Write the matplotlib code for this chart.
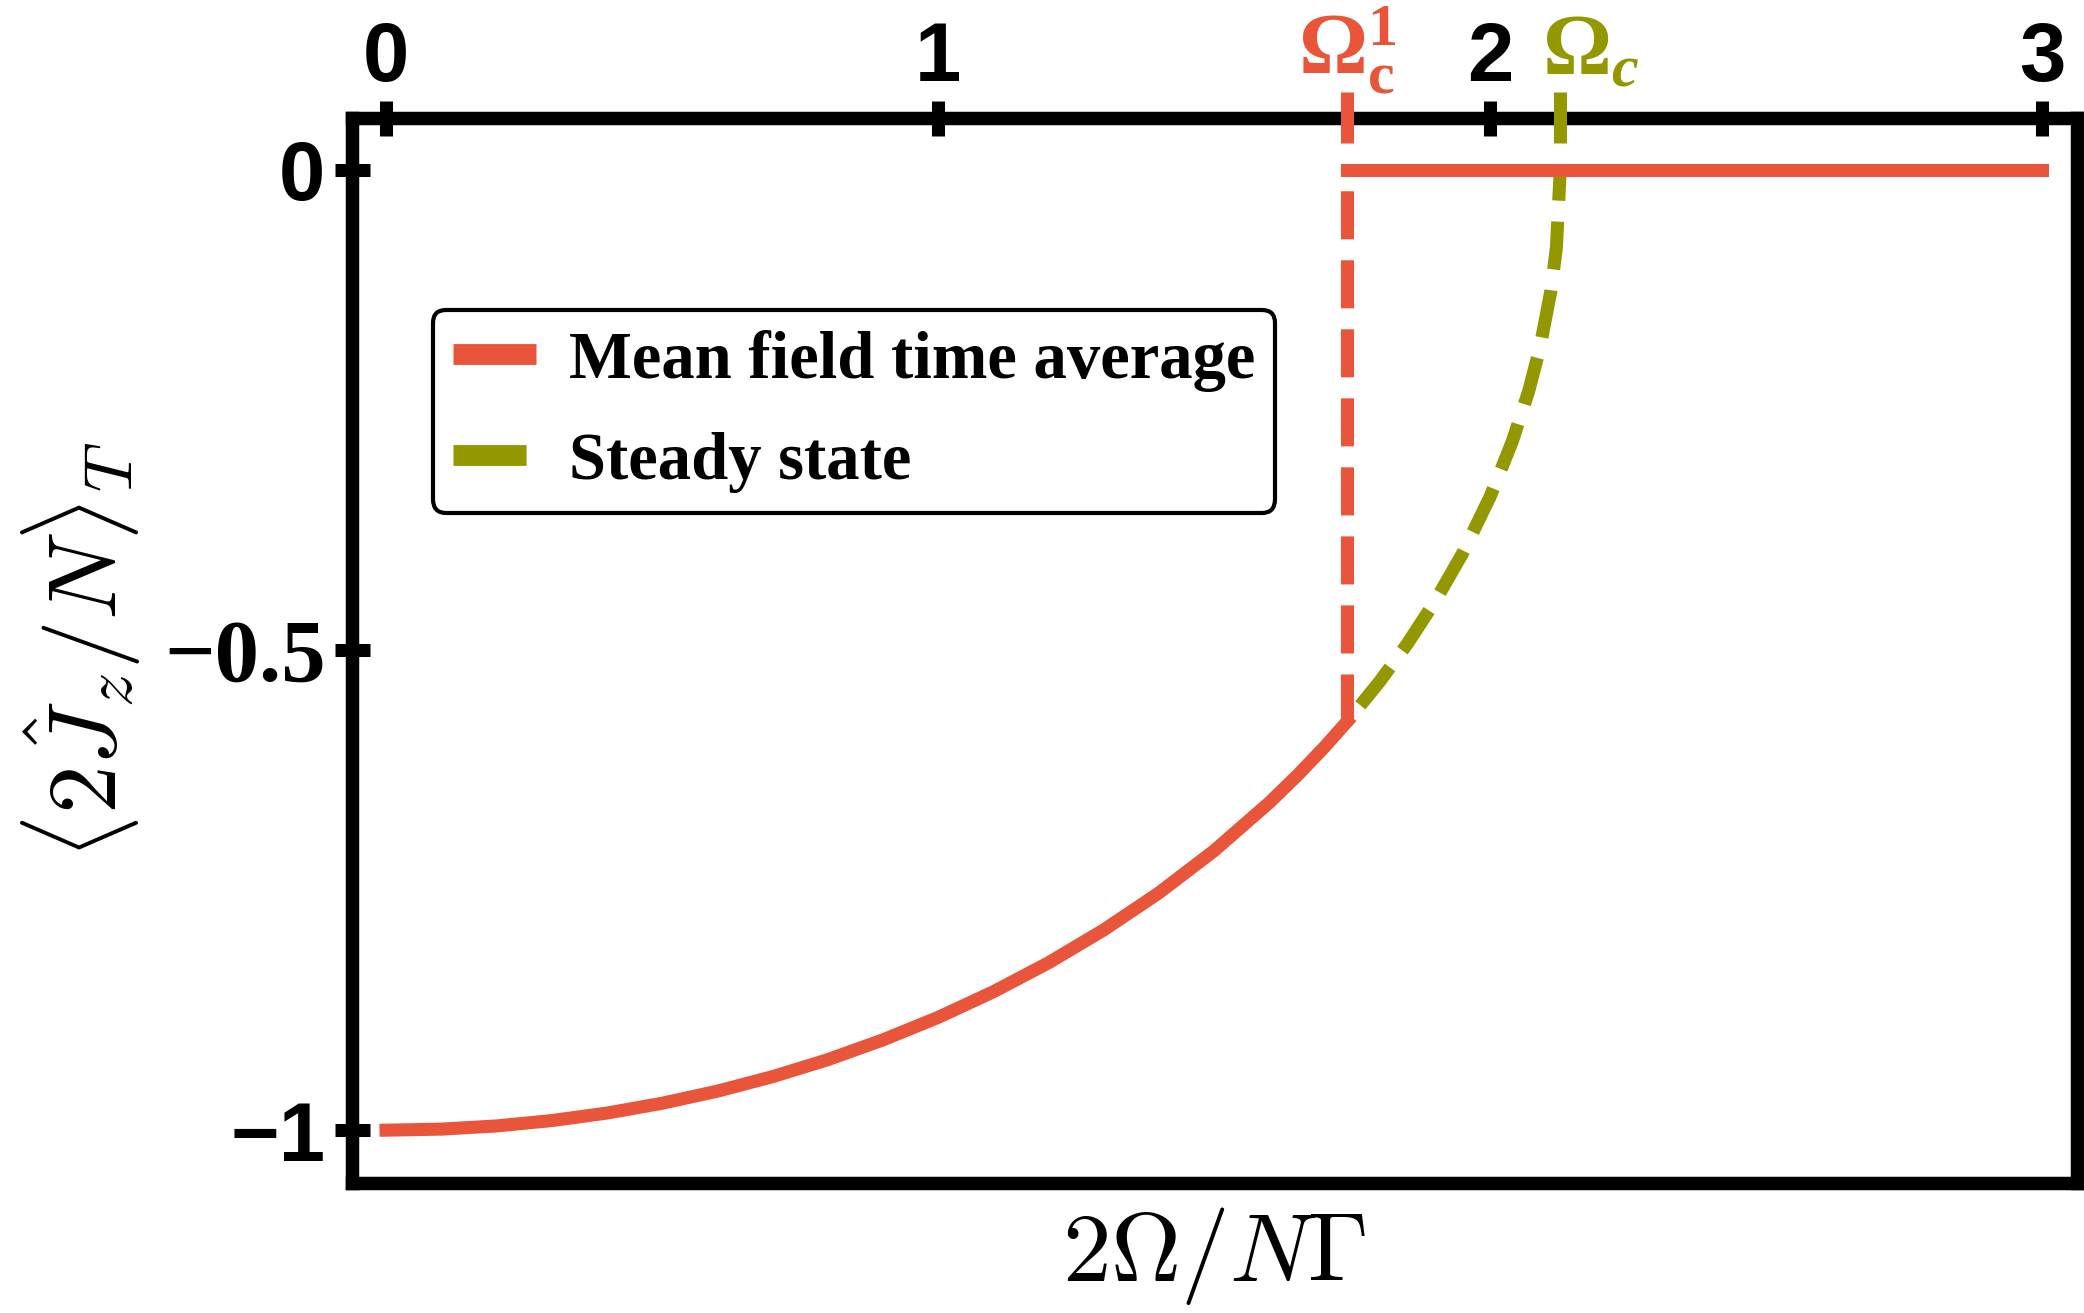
import matplotlib
matplotlib.use('Agg')
import matplotlib.pyplot as plt
from matplotlib.lines import Line2D
from matplotlib.font_manager import FontProperties
import matplotlib.transforms as mtransforms

plt.rcParams['mathtext.fontset'] = 'cm'
plt.rcParams['mathtext.rm'] = 'Liberation Serif:bold'
plt.rcParams['mathtext.bf'] = 'Liberation Serif:bold'
plt.rcParams['mathtext.it'] = 'Liberation Serif:italic:bold'
plt.rcParams['lines.scale_dashes'] = False

# ---------------- data ----------------
omega_c1 = 1.741
omega_c = 2.127

mf_x = [0.0, 0.1, 0.2, 0.3, 0.4, 0.5, 0.6, 0.7, 0.8, 0.9, 1.0, 1.1, 1.2, 1.3,
        1.4, 1.5, 1.6, 1.65, 1.7, 1.741]
mf_y = [-1.000, -0.9989, -0.9956, -0.9900, -0.9822, -0.9720, -0.9594, -0.9443,
        -0.9266, -0.9060, -0.8826, -0.8559, -0.8257, -0.7915, -0.7529, -0.7090,
        -0.6589, -0.6310, -0.6010, -0.5745]

mf_high_x = [1.741, 3.0]
mf_high_y = [0.0, 0.0]

jump_x = [1.741, 1.741]
jump_y = [-0.5745, 0.0]

ss_x = [1.741, 1.80, 1.85, 1.90, 1.95, 2.00, 2.04, 2.07, 2.09, 2.11, 2.12, 2.127]
ss_y = [-0.5745, -0.5327, -0.4935, -0.4495, -0.3994, -0.3403, -0.2830, -0.2300,
        -0.1857, -0.1261, -0.0810, 0.0]

xticks = [0, 1, 2, 3]
xtick_labels = ['0', '1', '2', '3']
yticks = [0, -0.5, -1]
ytick_labels = ['0', '\u22120.5', '\u22121']
legend_labels = ['Mean field time average', 'Steady state']

RED = '#E8553A'
GREEN = '#939800'

# ---------------- figure ----------------
fig = plt.figure(figsize=(20.84, 13.13), dpi=100)
ax = fig.add_axes([352 / 2084, 1 - 1183 / 1313, (2077 - 352) / 2084, (1183 - 118) / 1313])

ax.set_xlim(-0.0616, 3.063)
ax.set_ylim(-1.055, 0.054)

LW = 9.4
dash = (0, (34.6, 15.1))

ax.plot(ss_x, ss_y, color=GREEN, lw=LW, linestyle=(34.6, (34.6, 15.1)),
        dash_capstyle='butt', zorder=2)
ax.plot(jump_x, jump_y, color=RED, lw=LW, linestyle=dash, dash_capstyle='butt', zorder=3)
ax.plot(mf_x, mf_y, color=RED, lw=LW, solid_capstyle='projecting',
        solid_joinstyle='round', zorder=4)
ax.plot(mf_high_x, mf_high_y, color=RED, lw=LW, solid_capstyle='projecting', zorder=4)

# coloured tick marks on the top axis
trans = mtransforms.blended_transform_factory(ax.transData, ax.transAxes)
for xc, col in [(omega_c1, RED), (omega_c, GREEN)]:
    ax.plot([xc, xc], [0.9765, 1.0244], color=col, lw=LW, solid_capstyle='butt',
            transform=trans, clip_on=False, zorder=6)

# spines
for sp in ax.spines.values():
    sp.set_linewidth(9.7)
    sp.set_color('black')

ax.xaxis.tick_top()
ax.set_xticks(xticks)
ax.set_xticklabels(xtick_labels, fontfamily='Liberation Sans', fontweight='bold', fontsize=60)
ax.set_yticks(yticks)
ax.set_yticklabels(ytick_labels, fontfamily='Liberation Sans', fontweight='bold', fontsize=60)
ax.get_yticklabels()[1].set_fontfamily('Liberation Serif')
ax.get_yticklabels()[1].set_fontsize(64)
ax.tick_params(axis='x', direction='inout', length=25.2, width=9.4, pad=2, color='black')
ax.tick_params(axis='y', direction='inout', length=25.2, width=9.4, pad=6.5, color='black')

ax.set_xlabel(r'$2\Omega/N\Gamma$', fontsize=70, labelpad=16)
ax.set_ylabel(r'$\langle 2\hat{J}_z/N\rangle_T$', fontsize=70, labelpad=15)

# critical point labels
ax.text(omega_c1, 1.0413, r'$\mathbf{\Omega}_{\mathbf{c}}^{\mathbf{1}}$', color=RED,
        fontsize=62, ha='center', va='baseline', transform=trans,
        math_fontfamily='custom')
ax.text(omega_c - 0.033, 1.0413, r'$\mathbf{\Omega}_{c}$', color=GREEN,
        fontsize=62, ha='left', va='baseline', transform=trans,
        math_fontfamily='custom')

# legend
handles = [Line2D([], [], color=RED, lw=15, solid_capstyle='butt'),
           Line2D([], [], color=GREEN, lw=15, linestyle=(0, (52.6, 100)),
                  dash_capstyle='butt')]
leg = ax.legend(handles, legend_labels, loc='upper left',
                bbox_to_anchor=(0.047, 0.820), borderaxespad=0,
                prop=FontProperties(family='Liberation Serif', weight='bold', size=48),
                handlelength=1.24, handletextpad=0.5, labelspacing=0.6,
                borderpad=0.3, frameon=True, fancybox=True, framealpha=1)
leg.get_frame().set_edgecolor('black')
leg.get_frame().set_linewidth(3)

fig.savefig('out.png', dpi=100)
